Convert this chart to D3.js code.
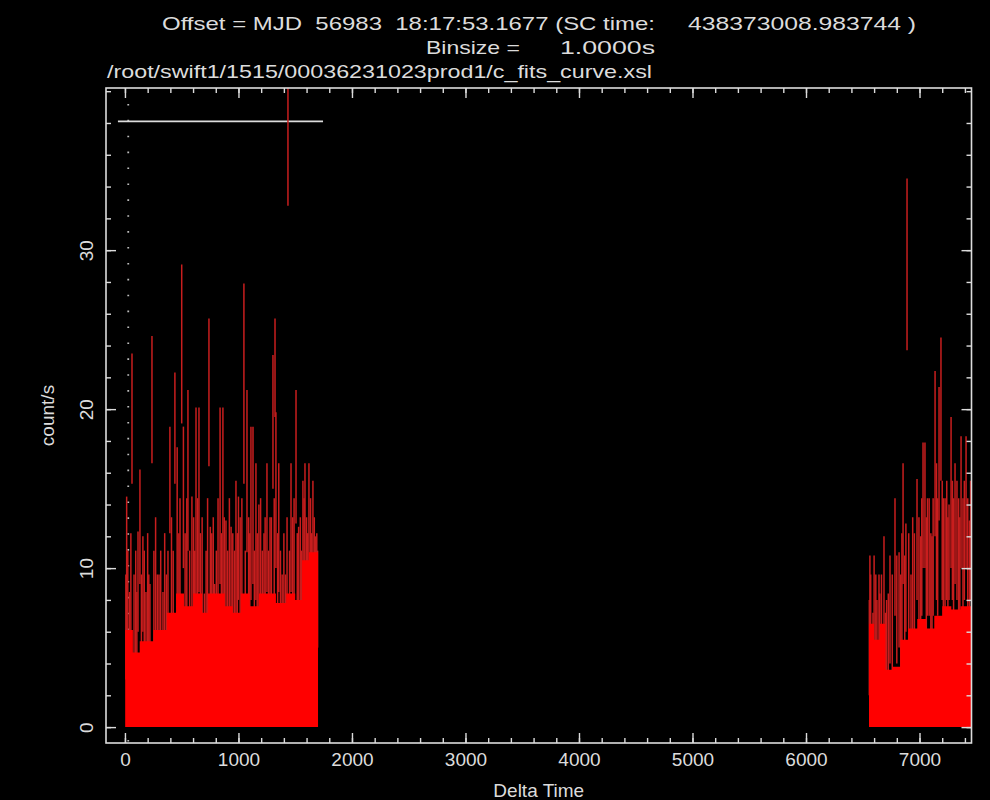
<!DOCTYPE html>
<html>
<head>
<meta charset="utf-8">
<script src="https://cdn.jsdelivr.net/npm/d3@7"></script>
<style>
  html, body { margin: 0; padding: 0; background: #000; }
  svg { display: block; background: #000; }
  text { font-family: "Liberation Sans", "DejaVu Sans", sans-serif; fill: #dcdcdc; white-space: pre; }
</style>
</head>
<body>
<svg id="chart" width="990" height="800"></svg>
<script>
// ---- light-curve data (1 s bins), error bars as low/high rate ----
const leftTime = [8,15,25,40,52,62,80,95,105,115,132,145,158,170,185,200,210,220,238,255,270,285,300,315,335,350,365,379,396,410,425,440,460,475,485,500,515,530,545,555,570,590,605,615,626,640,652,665,680,700,715,728,740,752,765,778,790,805,820,838,850,863,875,890,905,920,935,950,965,978,990,1000,1015,1030,1048,1060,1075,1090,1100,1110,1128,1140,1154,1165,1180,1195,1210,1225,1235,1251,1265,1278,1290,1304,1315,1322,1330,1345,1355,1370,1385,1400,1415,1428,1436,1450,1463,1478,1490,1507,1518,1530,1545,1555,1568,1578,1586,1600,1610,1621,1635,1645,1656,1668,1680,1690,1697];
const leftLow = [3,5,4,3,4,15.3,3,4,2,6,9,3,6,4,3,4,3,5,16.6,4,5,3,5,4,5,5,3,6,12.2,4,5,15.3,8,4,6,19.1,10,4,5,11.1,3,7,5,4,4.8,6,8.5,4,5,5,4,6,16.4,6,4,5,6,4,6,9,4,7,5,6,4,6,7,4,5,7,4,8,5,6,15.3,4,11,5,4,8,9,5,8,4,7,6,4,5,5.3,8.5,4,5,6,15,6,19.5,10,4,8.5,5,4,4,5,6,32.8,4,8.5,5,6,12.8,4,7,5,6,7,6,8.5,7,6,5,7,6,8,7,6,6,5];
const leftHigh = [9.6,14.5,11.1,8.5,12.2,23.5,9.6,11.1,8.5,12.3,16.2,9.6,12.0,11.1,8.5,12.2,9.6,9.0,24.6,11.1,13.2,9.6,9.6,11.1,8.5,12.2,9.6,11.1,18.9,13.2,11.1,22.3,17.6,12.2,14.4,29.1,18.9,12.2,14.4,21.2,11.1,14.5,13.2,11.1,20.1,14.4,20.1,12.2,13.2,8.4,11.1,14.4,25.7,12.6,12.2,13.2,9.0,11.1,14.4,20.1,12.2,20.1,13.2,13.0,11.1,14.4,12.6,12.2,11.1,15.5,12.2,14.5,13.2,14.4,27.9,11.1,21.2,13.2,12.2,18.9,18.9,11.1,16.6,12.2,14.0,14.4,11.1,12.2,13.2,16.6,11.1,13.2,13.2,23.4,14.4,25.7,19.8,12.2,16.6,11.1,9.6,12.2,9.6,13.2,46,11.1,16.6,13.2,14.4,21.2,12.2,12.6,13.2,11.1,15.5,14.4,16.6,13.2,12.2,16.6,14.4,12.2,15.5,13.2,12.0,12.2,11.1];

const rightTime = [6558,6563,6570,6590,6600,6615,6625,6643,6650,6665,6687,6700,6710,6725,6740,6760,6784,6800,6820,6835,6845,6855,6870,6880,6890,6905,6925,6940,6955,6978,6995,7010,7020,7031,7048,7060,7070,7085,7100,7110,7120,7137,7150,7160,7172,7189,7200,7210,7225,7240,7250,7260,7278,7290,7300,7313,7330,7345,7355,7366,7383,7395,7410,7425,7440,7450];
const rightLow = [2,4,3,2,4,3,3,4,2,3,6,2,3,2,4,3,7,4,5,3,5,9,4,6,23.7,5,4,6,5,8,6,5,7,10,10,6,7,7,6,6,7,12,8,7,13,15.5,8,7,7,8,6,8,10,8,7,9,8,7,7,10,7,8,10,7,7,8];
const rightHigh = [8,10.8,9.6,7.2,10.8,9.6,8,9.6,8.4,9.6,12.0,7.2,8,8.4,10.8,9.6,14.4,10.8,11,9.6,12.2,16.6,10.8,12.8,34.5,12.2,9.6,13.2,12.2,15.6,13.2,12,14.4,17.9,17.9,13.2,14.4,14.4,12.2,12,14.4,22.4,16.6,14.4,21.4,24.5,15.5,14.4,14.4,15.5,13.2,14,19.5,15.5,14.4,16.6,15.5,14.4,13.2,18.3,14.4,15.5,18.3,14.4,13,15.5];

// dense core where the low-count error bars overlap into a solid band
const leftBaseTime = [2,70,130,250,370,450,520,600,680,730,800,880,950,1020,1100,1180,1250,1330,1420,1500,1560,1620,1701];
const leftBaseTop  = [6.1,4.7,5.4,6.1,7.2,8.4,7.6,8.4,7.2,8.4,8.4,7.6,7.2,8.4,7.6,8.4,8.4,7.8,8.4,8.0,10.5,11.0,11.0];
const rightBaseTime = [6555,6600,6650,6700,6760,6830,6900,6980,7060,7130,7200,7280,7360,7458];
const rightBaseTop  = [6.5,5.5,6.5,3.6,3.8,5.5,6.2,6.8,6.2,7.0,7.6,7.4,7.6,7.6];

// interval marker and reference time line
const markerStart = -62, markerEnd = 1745, markerLevel = 38.1;
const refLineTime = 29;

// axis ticks
const xMajorTicks = [0,1000,2000,3000,4000,5000,6000,7000];
const xMinorTicks = d3.range(0, 7401, 200);
const yMajorTicks = [0,10,20,30];
const yMinorTicks = d3.range(0, 41, 2);

const titleLines = [
  "Offset = MJD  56983  18:17:53.1677 (SC time:",
  "438373008.983744 )",
  "Binsize =",
  "1.0000s",
  "/root/swift1/1515/00036231023prod1/c_fits_curve.xsl"
];

// ---- layout ----
const frame = { left: 106, right: 971.5, top: 88, bottom: 743 };
const x = d3.scaleLinear().domain([-167, 7458]).range([frame.left, frame.right]);
const y = d3.scaleLinear().domain([-1, 40.2]).range([frame.bottom, frame.top]);

const svg = d3.select("#chart");
const fg = "#dcdcdc";

svg.append("defs").append("clipPath").attr("id", "plotClip")
  .append("rect").attr("x", frame.left).attr("y", frame.top)
  .attr("width", frame.right - frame.left).attr("height", frame.bottom - frame.top);

const plot = svg.append("g").attr("clip-path", "url(#plotClip)");

// dotted reference line
plot.append("line")
  .attr("x1", x(refLineTime)).attr("x2", x(refLineTime))
  .attr("y1", y(39.2)).attr("y2", y(-1))
  .attr("stroke", "#bdbdbd").attr("stroke-width", 1.8)
  .attr("stroke-dasharray", "1.6,14.3");

// interval marker
plot.append("line")
  .attr("x1", x(markerStart)).attr("x2", x(markerEnd))
  .attr("y1", y(markerLevel)).attr("y2", y(markerLevel))
  .attr("stroke", fg).attr("stroke-width", 1.6);

// error bars
function drawBars(times, lows, highs) {
  const rows = times.map((t, i) => ({ t, lo: lows[i], hi: highs[i] }));
  plot.append("g").selectAll("line").data(rows).join("line")
    .attr("x1", d => x(d.t)).attr("x2", d => x(d.t))
    .attr("y1", d => y(d.lo)).attr("y2", d => y(d.hi))
    .attr("stroke", "#c81e1e").attr("stroke-width", 1.5);
}
drawBars(leftTime, leftLow, leftHigh);
drawBars(rightTime, rightLow, rightHigh);

// solid core band
const band = d3.area()
  .x(d => x(d.t)).y0(y(0)).y1(d => y(d.v))
  .curve(d3.curveStepAfter);
[[leftBaseTime, leftBaseTop], [rightBaseTime, rightBaseTop]].forEach(([ts, vs]) => {
  plot.append("path")
    .datum(ts.map((t, i) => ({ t, v: vs[i] })))
    .attr("d", band).attr("fill", "#ff0000");
});

// ---- axes ----
function styleAxis(g) {
  g.select(".domain").remove();
  g.selectAll("line").attr("stroke", fg).attr("stroke-width", 1.4);
}
const bottomMinor = svg.append("g").attr("transform", `translate(0,${frame.bottom})`)
  .call(d3.axisBottom(x).tickValues(xMinorTicks).tickSize(-5).tickFormat(""));
styleAxis(bottomMinor);
const bottomMajor = svg.append("g").attr("transform", `translate(0,${frame.bottom})`)
  .call(d3.axisBottom(x).tickValues(xMajorTicks).tickSize(-10).tickPadding(10).tickFormat(d3.format("d")));
styleAxis(bottomMajor);
bottomMajor.selectAll("text").attr("fill", fg).style("font-size", "19px").attr("dy", "0.71em");

const topMinor = svg.append("g").attr("transform", `translate(0,${frame.top})`)
  .call(d3.axisTop(x).tickValues(xMinorTicks).tickSize(-5).tickFormat(""));
styleAxis(topMinor);
const topMajor = svg.append("g").attr("transform", `translate(0,${frame.top})`)
  .call(d3.axisTop(x).tickValues(xMajorTicks).tickSize(-10).tickFormat(""));
styleAxis(topMajor);

const leftMinor = svg.append("g").attr("transform", `translate(${frame.left},0)`)
  .call(d3.axisLeft(y).tickValues(yMinorTicks).tickSize(-5).tickFormat(""));
styleAxis(leftMinor);
const leftMajor = svg.append("g").attr("transform", `translate(${frame.left},0)`)
  .call(d3.axisLeft(y).tickValues(yMajorTicks).tickSize(-10).tickFormat(d3.format("d")));
styleAxis(leftMajor);
leftMajor.selectAll("text")
  .attr("x", null).attr("y", null).attr("dy", "0.35em")
  .attr("text-anchor", "middle").attr("fill", fg).style("font-size", "19px")
  .attr("transform", "translate(-20,0) rotate(-90)");

const rightMinor = svg.append("g").attr("transform", `translate(${frame.right},0)`)
  .call(d3.axisRight(y).tickValues(yMinorTicks).tickSize(-5).tickFormat(""));
styleAxis(rightMinor);
const rightMajor = svg.append("g").attr("transform", `translate(${frame.right},0)`)
  .call(d3.axisRight(y).tickValues(yMajorTicks).tickSize(-10).tickFormat(""));
styleAxis(rightMajor);

// frame
svg.append("rect")
  .attr("x", frame.left).attr("y", frame.top)
  .attr("width", frame.right - frame.left).attr("height", frame.bottom - frame.top)
  .attr("fill", "none").attr("stroke", fg).attr("stroke-width", 1.6);

// axis titles
svg.append("text").text("Delta Time")
  .attr("x", (frame.left + frame.right) / 2).attr("y", 797)
  .attr("text-anchor", "middle").style("font-size", "19px");
svg.append("text").text("count/s")
  .attr("transform", `translate(47,${(frame.top + frame.bottom) / 2}) rotate(-90)`)
  .attr("dy", "0.35em").attr("text-anchor", "middle").style("font-size", "19px");

// header lines
const header = [
  { s: titleLines[0], x: 162, y: 30, w: 493 },
  { s: titleLines[1], x: 688, y: 30, w: 228 },
  { s: titleLines[2], x: 426, y: 54, w: 94 },
  { s: titleLines[3], x: 560, y: 54, w: 95 },
  { s: titleLines[4], x: 107, y: 78, w: 545 }
];
svg.selectAll("text.hdr").data(header).join("text")
  .attr("class", "hdr")
  .attr("x", d => d.x).attr("y", d => d.y)
  .attr("textLength", d => d.w).attr("lengthAdjust", "spacingAndGlyphs")
  .style("font-size", "19px")
  .text(d => d.s);
</script>
</body>
</html>
